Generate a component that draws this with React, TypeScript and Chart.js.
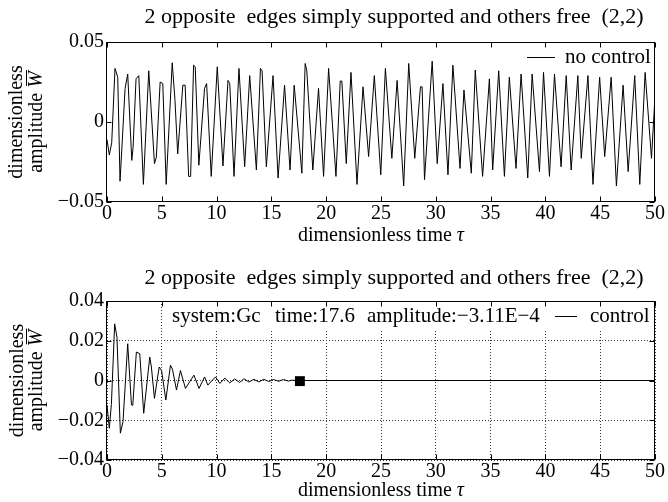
import React, { useEffect, useRef } from 'react';
import { Chart, registerables } from 'chart.js';

Chart.register(...registerables);

const SERIF = '"Liberation Serif", "Times New Roman", Times, serif';

// ---------- texts ----------
const chartTitle = '2 opposite  edges simply supported and others free  (2,2)';
const xAxisTitle = 'dimensionless time ';
const xAxisSymbol = 'τ';
const yAxisTitleLine1 = 'dimensionless';
const yAxisTitleLine2 = 'amplitude ';
const yAxisSymbol = 'W';
const legendTopLabel = 'no control';
const legendBottomLabel = 'control';
const infoLabels = ['system:Gc', 'time:17.6', 'amplitude:−3.11E−4'];

// ---------- ticks ----------
const xTickValues = [0, 5, 10, 15, 20, 25, 30, 35, 40, 45, 50];
const yTickValuesTop = [-0.05, 0, 0.05];
const yTickValuesBottom = [-0.04, -0.02, 0, 0.02, 0.04];

// ---------- data: [tau, W] ----------
const topSeries: number[][] = [
  [0, -0.011], [0.21, -0.0206], [0.43, -0.013], [0.73, 0.0335], [0.98, 0.028],
  [1.19, -0.037], [1.43, -0.007], [1.65, 0.021], [1.89, 0.030], [2.26, -0.024],
  [2.38, -0.016], [2.65, 0.027], [2.90, 0.029], [3.32, -0.039], [3.81, 0.032],
  [4.33, -0.026], [4.5, -0.022], [4.85, 0.025], [5.09, 0.024], [5.40, -0.039],
  [5.95, 0.037], [6.2, 0.014], [6.45, -0.020], [6.92, 0.023], [7.13, 0.023],
  [7.45, -0.034], [7.63, -0.034], [7.90, 0.0355], [8.05, 0.0345], [8.38, -0.027],
  [8.90, 0.021], [9.09, 0.024], [9.51, -0.034], [10.06, 0.0345], [10.58, -0.0275],
  [11.04, 0.026], [11.2, 0.024], [11.59, -0.034], [12.04, 0.0335], [12.56, -0.028],
  [13.02, 0.029], [13.63, -0.030], [14.0, 0.0335], [14.15, 0.032], [14.54, -0.028],
  [15.15, 0.029], [15.61, -0.035], [16.2, 0.023], [16.7, -0.030], [17.08, 0.023],
  [17.78, -0.032], [18.08, 0.0366], [18.23, 0.032], [18.78, -0.030], [19.30, 0.021],
  [19.76, -0.034], [20.22, 0.0335], [20.89, -0.034], [21.28, 0.0256], [21.43, 0.0256],
  [21.83, -0.026], [22.26, 0.031], [22.81, -0.039], [23.36, 0.022], [23.87, -0.0216],
  [24.39, 0.029], [24.98, -0.033], [25.40, 0.0335], [25.99, -0.0227], [26.47, 0.026],
  [27.07, -0.040], [27.53, 0.0366], [28.08, -0.0227], [28.60, 0.022], [28.75, 0.022],
  [28.97, -0.036], [29.67, 0.038], [30.13, -0.026], [30.65, 0.024], [31.11, -0.033],
  [31.56, 0.0355], [32.21, -0.029], [32.57, 0.020], [33.24, -0.032], [33.60, 0.0325],
  [34.27, -0.034], [34.89, 0.027], [35.19, -0.030], [35.74, 0.032], [36.26, -0.034],
  [36.71, 0.028], [37.32, -0.029], [37.78, 0.030], [38.39, -0.035], [38.79, 0.030],
  [39.46, -0.031], [39.83, 0.031], [40.37, -0.034], [40.83, 0.030], [41.43, -0.028],
  [41.90, 0.029], [42.35, -0.030], [42.96, 0.029], [43.27, -0.0227], [43.88, 0.029],
  [44.34, -0.039], [44.95, 0.028], [45.41, -0.0216], [46.0, 0.028], [46.48, -0.040],
  [47.09, 0.023], [47.55, -0.031], [48.15, 0.029], [48.61, -0.039], [49.1, 0.031],
  [49.68, -0.0227], [50, 0.016],
];

const bottomSeries: number[][] = [
  [0, -0.0123], [0.21, -0.024], [0.4, -0.012], [0.7, 0.0285], [0.91, 0.0218],
  [1.22, -0.0265], [1.46, -0.0207], [1.89, 0.0185], [2.23, -0.0123], [2.35, -0.0125],
  [2.68, 0.0143], [2.99, 0.0135], [3.35, -0.0165], [3.9, 0.0118], [4.05, 0.0068],
  [4.33, -0.009], [4.76, 0.0068], [4.98, 0.005], [5.37, -0.0098], [5.79, 0.0077],
  [5.97, 0.0057], [6.34, -0.0048], [6.7, 0.005], [7.16, -0.004], [7.93, 0.0027],
  [8.4, -0.004], [8.9, 0.0018], [9.2, -0.0023], [9.9, 0.0018], [10.3, -0.0015],
  [10.75, 0.0012], [11.2, -0.0012], [11.65, 0.0008], [12.1, -0.001], [12.5, 0.0009],
  [12.95, -0.0008], [13.4, 0.0006], [13.85, -0.0007], [14.3, 0.0006], [14.75, -0.0005],
  [15.2, 0.0005], [15.65, -0.0004], [16.1, 0.0005], [16.55, -0.0003], [16.9, 0.0002],
  [17.6, -0.000311], [18.0, 0], [50, 0],
];

const markerPoint: number[][] = [[17.6, -0.000311]];

// ---------- helpers ----------
const toXY = (arr: number[][]) => arr.map(([x, y]) => ({ x, y }));
const fmtY = (v: number) => {
  if (Math.abs(v) < 1e-12) return '0';
  return (v < 0 ? '\u2212' : '') + Math.abs(v).toFixed(2);
};

type Cfg = {
  areaTop: number;
  xAxisHeight: number;
  yTicks: number[];
  yMin: number;
  yMax: number;
  grid: boolean;
  titleY: number;
  xTitleY: number;
  yTitleX1: number;
  yTitleX2: number;
  legendBox: { x: number; y: number; h: number };
  legendLine: { x0: number; x1: number; y: number };
  legendText: { x: number; y: number; label: string };
  info?: { xs: number[]; y: number };
};

function decor(cfg: Cfg) {
  return {
    id: 'decor',
    afterDatasetsDraw(chart: any) {
      const { ctx, chartArea: a, scales } = chart;
      const xs = scales.x;
      const ys = scales.y;
      ctx.save();
      // legend background
      ctx.fillStyle = '#fff';
      ctx.fillRect(cfg.legendBox.x, cfg.legendBox.y, a.right - cfg.legendBox.x, cfg.legendBox.h);

      // frame
      ctx.strokeStyle = '#000';
      ctx.lineWidth = 1;
      ctx.setLineDash([]);
      const L = Math.round(a.left) - 0.5;
      const R = Math.round(a.right) - 0.5;
      const T = Math.round(a.top) + 0.5;
      const B = Math.round(a.bottom) - 0.5;
      ctx.strokeRect(L, T, R - L, B - T);

      // inward ticks
      const tl = 5;
      ctx.beginPath();
      xTickValues.forEach((v) => {
        const px = Math.round(xs.getPixelForValue(v)) + 0.5;
        ctx.moveTo(px, B);
        ctx.lineTo(px, B - tl);
        ctx.moveTo(px, T);
        ctx.lineTo(px, T + tl);
      });
      cfg.yTicks.forEach((v) => {
        const py = Math.round(ys.getPixelForValue(v)) + 0.5;
        ctx.moveTo(L, py);
        ctx.lineTo(L + tl, py);
        ctx.moveTo(R, py);
        ctx.lineTo(R - tl, py);
      });
      ctx.stroke();

      ctx.fillStyle = '#000';
      // title
      ctx.font = `22px ${SERIF}`;
      ctx.textAlign = 'center';
      ctx.textBaseline = 'middle';
      ctx.fillText(chartTitle, 394, cfg.titleY);

      // x axis title
      ctx.font = `20px ${SERIF}`;
      const w1 = ctx.measureText(xAxisTitle).width;
      ctx.font = `italic 20px ${SERIF}`;
      const w2 = ctx.measureText(xAxisSymbol).width;
      const xc = (a.left + a.right) / 2;
      ctx.textAlign = 'left';
      ctx.font = `20px ${SERIF}`;
      ctx.fillText(xAxisTitle, xc - (w1 + w2) / 2, cfg.xTitleY);
      ctx.font = `italic 20px ${SERIF}`;
      ctx.fillText(xAxisSymbol, xc - (w1 + w2) / 2 + w1, cfg.xTitleY);

      // y axis title
      const yc = (a.top + a.bottom) / 2;
      ctx.save();
      ctx.translate(cfg.yTitleX1, yc);
      ctx.rotate(-Math.PI / 2);
      ctx.textAlign = 'center';
      ctx.font = `20px ${SERIF}`;
      ctx.fillText(yAxisTitleLine1, 0, 0);
      ctx.restore();

      ctx.save();
      ctx.translate(cfg.yTitleX2, yc);
      ctx.rotate(-Math.PI / 2);
      ctx.font = `20px ${SERIF}`;
      const a1 = ctx.measureText(yAxisTitleLine2).width;
      ctx.font = `italic 20px ${SERIF}`;
      const a2 = ctx.measureText(yAxisSymbol).width;
      const s0 = -(a1 + a2) / 2;
      ctx.textAlign = 'left';
      ctx.font = `20px ${SERIF}`;
      ctx.fillText(yAxisTitleLine2, s0, 0);
      ctx.font = `italic 20px ${SERIF}`;
      ctx.fillText(yAxisSymbol, s0 + a1, 0);
      ctx.beginPath();
      ctx.lineWidth = 1;
      ctx.moveTo(s0 + a1 + 2, -10.5);
      ctx.lineTo(s0 + a1 + a2 + 1, -10.5);
      ctx.stroke();
      ctx.restore();

      // legend
      ctx.beginPath();
      ctx.moveTo(cfg.legendLine.x0, cfg.legendLine.y);
      ctx.lineTo(cfg.legendLine.x1, cfg.legendLine.y);
      ctx.stroke();
      ctx.font = `21px ${SERIF}`;
      ctx.textAlign = 'left';
      ctx.textBaseline = 'alphabetic';
      ctx.fillText(cfg.legendText.label, cfg.legendText.x, cfg.legendText.y);
      if (cfg.info) {
        cfg.info.xs.forEach((x, i) => ctx.fillText(infoLabels[i], x, cfg.info!.y));
      }
      ctx.restore();
    },
  };
}

function buildChart(canvas: HTMLCanvasElement, cfg: Cfg, datasets: any[]) {
  return new Chart(canvas, {
    type: 'line',
    data: { datasets },
    options: {
      responsive: false,
      animation: false,
      devicePixelRatio: 1,
      layout: { padding: { top: cfg.areaTop, right: 13, left: 0, bottom: 0 } },
      plugins: {
        legend: { display: false },
        tooltip: { enabled: false },
        title: { display: false },
      },
      scales: {
        x: {
          type: 'linear',
          min: 0,
          max: 50,
          afterBuildTicks: (s: any) => {
            s.ticks = xTickValues.map((v) => ({ value: v }));
          },
          afterFit: (s: any) => {
            s.height = cfg.xAxisHeight;
          },
          grid: { display: cfg.grid, drawTicks: false, color: '#333', lineWidth: 1 },
          border: { display: false, dash: [1, 2] },
          ticks: {
            font: { family: SERIF, size: 20 },
            color: '#000',
            padding: 0,
            maxRotation: 0,
            autoSkip: false,
            callback: (v: any) => String(v),
          },
        },
        y: {
          type: 'linear',
          min: cfg.yMin,
          max: cfg.yMax,
          afterBuildTicks: (s: any) => {
            s.ticks = cfg.yTicks.map((v) => ({ value: v }));
          },
          afterFit: (s: any) => {
            s.width = 107;
          },
          grid: { display: cfg.grid, drawTicks: false, color: '#333', lineWidth: 1 },
          border: { display: false, dash: [1, 2] },
          ticks: {
            font: { family: SERIF, size: 20 },
            color: '#000',
            padding: 3,
            autoSkip: false,
            callback: (v: any) => fmtY(Number(v)),
          },
        },
      },
    } as any,
    plugins: [decor(cfg) as any],
  });
}

const topCfg: Cfg = {
  areaTop: 42,
  xAxisHeight: 49,
  yTicks: yTickValuesTop,
  yMin: -0.05,
  yMax: 0.05,
  grid: false,
  titleY: 17,
  xTitleY: 236,
  yTitleX1: 17,
  yTitleX2: 37,
  legendBox: { x: 518, y: 43, h: 24 },
  legendLine: { x0: 527, x1: 555, y: 57.5 },
  legendText: { x: 565, y: 63, label: legendTopLabel },
};

const bottomCfg: Cfg = {
  areaTop: 50,
  xAxisHeight: 42,
  yTicks: yTickValuesBottom,
  yMin: -0.04,
  yMax: 0.04,
  grid: true,
  titleY: 27,
  xTitleY: 240,
  yTitleX1: 18,
  yTitleX2: 37,
  legendBox: { x: 166, y: 51, h: 27 },
  legendLine: { x0: 555, x1: 577, y: 65.5 },
  legendText: { x: 590, y: 71, label: legendBottomLabel },
  info: { xs: [172, 275, 367], y: 71 },
};

export default function App() {
  const topRef = useRef<HTMLCanvasElement>(null);
  const bottomRef = useRef<HTMLCanvasElement>(null);

  useEffect(() => {
    const lineStyle = {
      borderColor: '#000',
      borderWidth: 1,
      pointRadius: 0,
      tension: 0,
      fill: false,
    };
    const c1 = buildChart(topRef.current!, topCfg, [
      { label: legendTopLabel, data: toXY(topSeries), ...lineStyle },
    ]);
    const c2 = buildChart(bottomRef.current!, bottomCfg, [
      { label: legendBottomLabel, data: toXY(bottomSeries), ...lineStyle },
      {
        label: 'current',
        data: toXY(markerPoint),
        showLine: false,
        pointStyle: 'rect',
        pointRadius: 7,
        pointBackgroundColor: '#000',
        pointBorderColor: '#000',
        borderWidth: 0,
      },
    ]);
    return () => {
      c1.destroy();
      c2.destroy();
    };
  }, []);

  return (
    <div style={{ position: 'absolute', left: 0, top: 0, width: 668, height: 502, background: '#fff' }}>
      <canvas ref={topRef} width={668} height={251} style={{ position: 'absolute', left: 0, top: 0 }} />
      <canvas ref={bottomRef} width={668} height={251} style={{ position: 'absolute', left: 0, top: 251 }} />
    </div>
  );
}
